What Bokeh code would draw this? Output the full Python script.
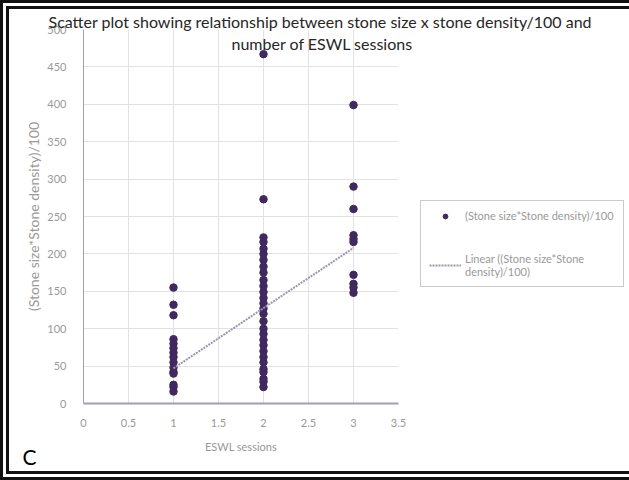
from bokeh.plotting import figure
from bokeh.models import (Range1d, Legend, LegendItem, Title, FixedTicker,
                          NumeralTickFormatter, ColumnDataSource)
from bokeh.embed import file_html
from bokeh.resources import INLINE

# (stone size * stone density) / 100 for each patient, grouped by number of ESWL sessions
one_session = [155, 132, 118, 86, 80, 74, 68, 62, 55, 48, 42, 40, 25, 22, 16]
two_sessions = [467, 273, 222, 216, 207, 200, 192, 183, 175, 165, 157, 149, 141,
                134, 127, 120, 110, 100, 93, 85, 78, 70, 62, 55, 46, 42, 33, 29, 22]
three_sessions = [399, 290, 260, 225, 220, 216, 172, 160, 155, 148]

# linear trendline: value = slope * sessions + intercept
trend_slope = 80.5
trend_intercept = -33.5

x_ticks = [0, 0.5, 1, 1.5, 2, 2.5, 3, 3.5]
y_ticks = [0, 50, 100, 150, 200, 250, 300, 350, 400, 450, 500]

title_lines = ["Scatter plot showing relationship between stone size x stone density/100 and",
               "number of ESWL sessions"]
series_label = "(Stone size*Stone density)/100"
trend_label = "Linear ((Stone size*Stone\ndensity)/100)"

sessions = [1] * len(one_session) + [2] * len(two_sessions) + [3] * len(three_sessions)
index_values = one_session + two_sessions + three_sessions
points = ColumnDataSource(dict(sessions=sessions, value=index_values))

trend_x = [min(sessions), max(sessions)]
trend_y = [trend_slope * s + trend_intercept for s in trend_x]

FONT = "Lato"
GREY_TEXT = "#999999"
AXIS_COLOR = "#a59cbb"
DOT_COLOR = "#40295e"

p = figure(frame_width=315, frame_height=374,
           min_border_left=74, min_border_top=20, min_border_bottom=68, min_border_right=222,
           x_range=Range1d(0, 3.5), y_range=Range1d(0, 500),
           output_backend="svg", toolbar_location=None)
p.styles = {"border": "9px double #111111"}
p.background_fill_color = "white"
p.border_fill_color = "white"
p.outline_line_color = None

dots = p.scatter("sessions", "value", source=points, size=7.5,
                 fill_color=DOT_COLOR, line_color=DOT_COLOR)
trend = p.line(trend_x, trend_y, line_color="#9d95b0", line_width=2, line_dash="2 1")

for ax in (p.xaxis[0], p.yaxis[0]):
    ax.major_tick_line_color = None
    ax.minor_tick_line_color = None
    ax.major_label_text_font = FONT
    ax.major_label_text_font_size = "11px"
    ax.major_label_text_color = GREY_TEXT
    ax.axis_label_text_font = FONT
    ax.axis_label_text_font_style = "normal"
    ax.axis_label_text_color = GREY_TEXT
    ax.axis_line_color = AXIS_COLOR

p.xaxis.ticker = FixedTicker(ticks=x_ticks)
p.xaxis.formatter = NumeralTickFormatter(format="0.[0]")
p.xaxis.major_label_standoff = 9
p.xaxis.axis_label = "ESWL sessions"
p.xaxis.axis_label_text_font_size = "11px"
p.xaxis.axis_label_standoff = 10
p.xaxis.axis_line_width = 2

p.yaxis.ticker = FixedTicker(ticks=y_ticks)
p.yaxis.major_label_standoff = 11
p.yaxis.axis_label = "(Stone size*Stone density)/100"
p.yaxis.axis_label_text_font_size = "14px"
p.yaxis.axis_label_standoff = 2
p.yaxis.axis_line_width = 1

p.xgrid.ticker = FixedTicker(ticks=x_ticks)
p.ygrid.ticker = FixedTicker(ticks=y_ticks)
p.grid.grid_line_color = "#e2e2e2"

legend = Legend(items=[LegendItem(label=series_label, renderers=[dots]),
                       LegendItem(label=trend_label, renderers=[trend])],
                location=(22, 116), margin=0, padding=8, spacing=30,
                glyph_width=32, glyph_height=12, label_height=12, label_width=150,
                label_standoff=4,
                label_text_font=FONT, label_text_font_size="11px",
                label_text_color=GREY_TEXT,
                border_line_color="#9a94a8", border_line_width=1,
                background_fill_color="white")
p.add_layout(legend, "right")

# chart title: two lines that sit partly over the top of the plot area
title_offsets = [-35, 148]
title_standoffs = [-2, -47]
for line, off, so in reversed(list(zip(title_lines, title_offsets, title_standoffs))):
    p.add_layout(Title(text=line, align="left", offset=off, standoff=so,
                       vertical_align="bottom", text_font=FONT, text_font_size="16px",
                       text_font_style="normal", text_color="#262626"), "above")

# panel letter in the lower left corner
p.add_layout(Title(text="C", align="left", offset=-61, standoff=-24, vertical_align="top",
                   text_font=FONT, text_font_size="21px", text_font_style="normal",
                   text_color="black"), "below")

open("out.html", "w").write(file_html(p, INLINE))
